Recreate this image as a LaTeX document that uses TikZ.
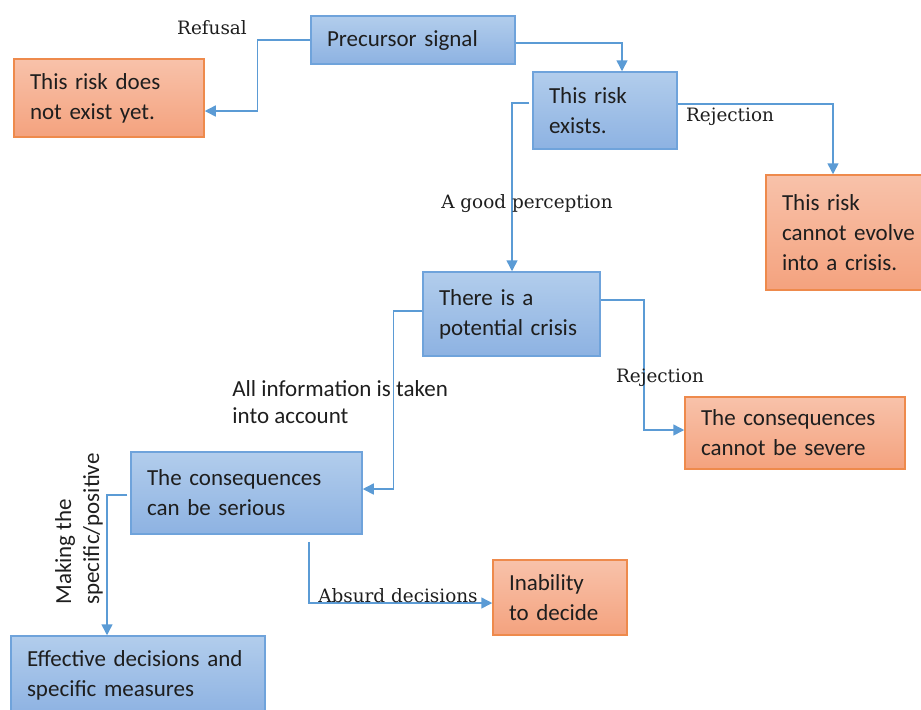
\documentclass[tikz,border=0pt]{standalone}
\usepackage{fontspec}
\setmainfont{Carlito}
\newfontfamily\lblfont{DejaVu Serif}
\usetikzlibrary{arrows.meta,calc}
\hfuzz=60pt
\hbadness=10000
\definecolor{bluetop}{HTML}{B2CDEC}
\definecolor{bluebot}{HTML}{8DB2E2}
\definecolor{blueline}{HTML}{6FA3DB}
\definecolor{orangetop}{HTML}{F8C2AA}
\definecolor{orangebot}{HTML}{F4A27E}
\definecolor{orangeline}{HTML}{EE8A4C}
\definecolor{arrowc}{HTML}{5B9BD5}
\definecolor{txt}{HTML}{1E1E1E}
\begin{document}
\begin{tikzpicture}[x=0.5pt,y=-0.5pt,
  box/.style={line width=0.75pt, inner xsep=8pt, inner ysep=0pt, align=left,
    font=\fontsize{11.5}{15}\selectfont, text=txt},
  bluebox/.style={box, draw=blueline, top color=bluetop, bottom color=bluebot},
  orangebox/.style={box, draw=orangeline, top color=orangetop, bottom color=orangebot},
  conn/.style={draw=arrowc, line width=0.75pt, -{Triangle[length=5.5pt,width=5.5pt]}},
  lbl/.style={font=\lblfont\fontsize{9.2}{11}\selectfont, text=txt, inner sep=0pt},
  sidetext/.style={font=\fontsize{11.5}{13.5}\selectfont, text=txt, inner sep=0pt, align=left},
]
\useasboundingbox (0,0) rectangle (921,709);

\node[bluebox, minimum width=102pt, minimum height=24pt, text width=86pt] (pre) at (413,40) {\mbox{Precursor signal}};
\node[orangebox, minimum width=95pt, minimum height=39pt, text width=79pt] (nex) at (109,98) {\mbox{This risk does}\\\mbox{not exist yet.}};
\node[bluebox, minimum width=72pt, minimum height=38.5pt, text width=56pt] (ex) at (605,110.5) {\mbox{This risk}\\\mbox{exists.}};
\node[orangebox, minimum width=87pt, minimum height=57.5pt, text width=71pt] (nev) at (853,232.5) {\mbox{This risk}\\\mbox{cannot evolve}\\\mbox{into a crisis.}};
\node[bluebox, minimum width=88.5pt, minimum height=42pt, text width=72.5pt] (pot) at (511.5,314) {\mbox{There is a}\\\mbox{potential crisis}};
\node[orangebox, minimum width=110pt, minimum height=36pt, text width=94pt] (sev) at (795,433) {\mbox{The consequences}\\\mbox{cannot be severe}};
\node[bluebox, minimum width=115.5pt, minimum height=41pt, text width=99.5pt] (ser) at (246.5,493) {\mbox{The consequences}\\\mbox{can be serious}};
\node[orangebox, minimum width=67pt, minimum height=37.5pt, text width=51pt] (inab) at (560,597.5) {\mbox{Inability}\\\mbox{to decide}};
\node[bluebox, minimum width=127pt, minimum height=39.5pt, text width=111pt] (eff) at (138,675.5) {\mbox{Effective decisions and}\\\mbox{specific measures}};

% connectors
\draw[conn] (pre.west) -- ++(-53,0) |- ($(nex.east)+(0,13)$);
\draw[conn] ($(pre.east)+(0,3)$) -| (ex.north -| 622,0);
\draw[conn] ($(ex.east)+(0,-6.5)$) -| (nev.north -| 833,0);
\draw[conn] ($(ex.west)+(-3,-7.5)$) -| (pot.north -| 512,0);
\draw[conn] ($(pot.west)+(0,-3)$) -- ++(-29,0) |- ($(ser.east)+(0,-4)$);
\draw[conn] ($(pot.east)+(0,-14)$) -- ++(43,0) |- ($(sev.west)+(0,-3)$);
\draw[conn] ($(ser.west)+(-3,2)$) -| (eff.north -| 107,0);
\draw[conn] ($(ser.south east)+(-54,7)$) |- ($(inab.west)+(0,5.5)$);

% labels
\node[lbl] (l1) at (212,28) {Refusal};
\node[lbl] (l2) at (730,117) {Rejection};
\node[lbl] (l3) at (527,204) {A good perception};
\node[lbl] (l4) at (660,378) {Rejection};
\node[lbl] (l5) at (398,596) {Absurd decisions};
\node[sidetext, anchor=west] (l6) at (232,402.5) {All information is taken\\into account};
\node[sidetext, rotate=90, anchor=west, font=\fontsize{11.5}{14}\selectfont] (l7) at (79,605) {Making the\\specific/positive};
\end{tikzpicture}
\end{document}
